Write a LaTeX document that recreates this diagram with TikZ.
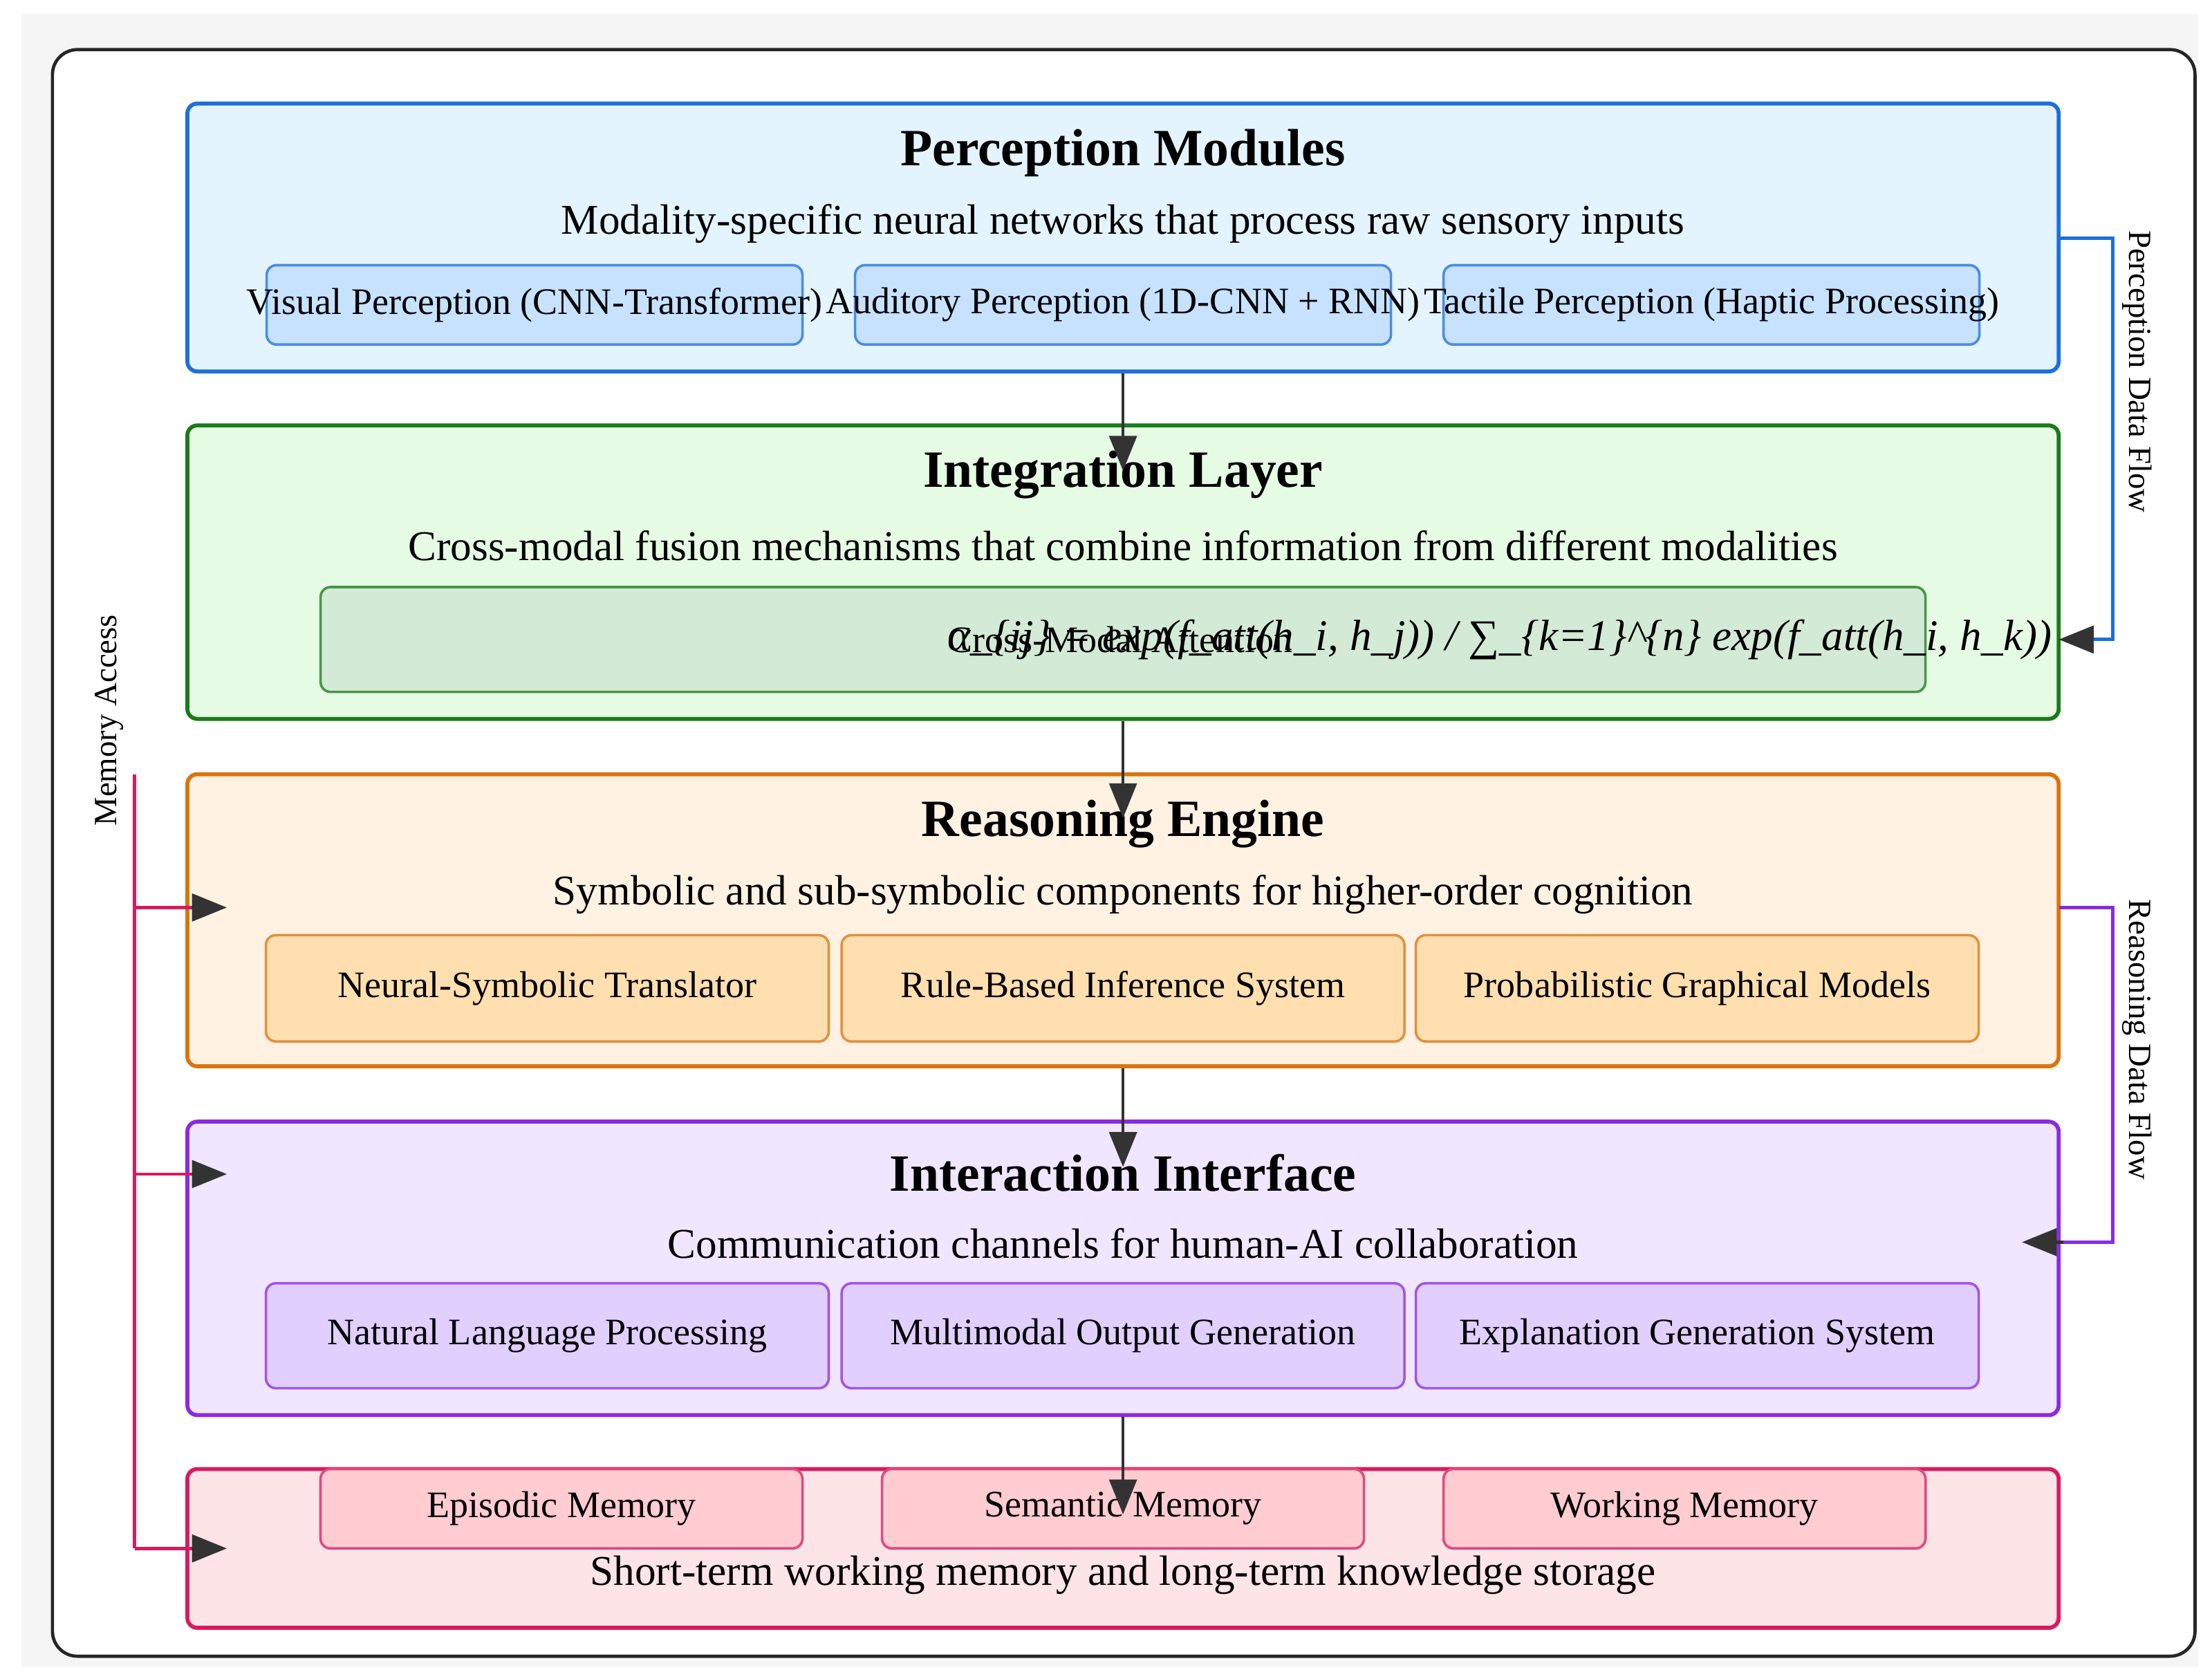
\documentclass[tikz,border=0pt]{standalone}
\usepackage{fontspec}
\setmainfont{Liberation Serif}
\usetikzlibrary{arrows.meta,positioning}
\definecolor{perB}{HTML}{1E6FD9}\definecolor{perF}{HTML}{E3F4FF}\definecolor{perS}{HTML}{C6E2FF}
\definecolor{intB}{HTML}{1B7A1B}\definecolor{intF}{HTML}{E6FBE3}\definecolor{intS}{HTML}{D3EAD6}
\definecolor{reaB}{HTML}{D9750F}\definecolor{reaF}{HTML}{FFF2E3}\definecolor{reaS}{HTML}{FFDFB0}
\definecolor{itaB}{HTML}{8A2BE2}\definecolor{itaF}{HTML}{F1E6FF}\definecolor{itaS}{HTML}{E1CFFF}
\definecolor{memB}{HTML}{D81B60}\definecolor{memF}{HTML}{FDE4E6}\definecolor{memS}{HTML}{FFCCD2}
\tikzset{
  layer/.style={draw=#1B,fill=#1F,line width=1.6pt,rounded corners=4pt,minimum width=26.4cm},
  sub/.style={draw=#1B!80,fill=#1S,line width=1pt,rounded corners=4pt,font=\fontsize{15}{17}\selectfont},
  ttl/.style={font=\fontsize{21}{23}\selectfont\bfseries},
  dsc/.style={font=\fontsize{17}{19}\selectfont},
  flow/.style={-{Triangle[length=14pt,width=11pt]},line width=1.3pt,color=black!80},
  side/.style={font=\fontsize{13}{15}\selectfont}
}
\begin{document}
\begin{tikzpicture}[x=0.02cm,y=-0.02cm]

    \useasboundingbox (0,0) rectangle (1560,1179);
    \fill[black!4] (15,10) rectangle (1550,1175);
    \draw[line width=1.3pt,black!85,fill=white,rounded corners=10pt] (37,35) rectangle (1548,1168);

    %Perception
    \node[layer=per,minimum height=3.78cm] (per) at (792,167.5) {};
    \node[ttl] (perT) at (792,108) {Perception Modules};
    \node[dsc] (perD) at (792,158) {Modality-specific neural networks that process raw sensory inputs};
    \foreach \x/\n/\t in {377/1/Visual Perception (CNN-Transformer),792/2/Auditory Perception (1D-CNN + RNN),1207/3/Tactile Perception (Haptic Processing)}{
        \node[sub=per,minimum width=7.56cm,minimum height=1.12cm] (perS\n) at (\x,215) {};
        \node[font=\fontsize{15}{17}\selectfont] at (\x,215) {\t};
    }

    %Integracion
    \node[layer=int,minimum height=4.14cm] (int) at (792,403.5) {};
    \node[ttl] (intT) at (792,335) {Integration Layer};
    \node[dsc] (intD) at (792,385) {Cross-modal fusion mechanisms that combine information from different modalities};
    \node[sub=int,minimum width=22.64cm,minimum height=1.48cm] (intS) at (792,451) {};
    \node[font=\fontsize{15}{17}\selectfont] at (790,451) {Cross-Modal Attention};
    \node[font=\fontsize{17.5}{19}\selectfont\itshape,anchor=west,inner sep=0pt] at (668,451)
        {α\_\{ij\} = exp(f\_att(h\_i, h\_j)) / ∑\_\{k=1\}\^{}\{n\} exp(f\_att(h\_i, h\_k))};

    %Razonamiento
    \node[layer=rea,minimum height=4.12cm] (rea) at (792,649) {};
    \node[ttl] (reaT) at (792,581) {Reasoning Engine};
    \node[dsc] (reaD) at (792,631) {Symbolic and sub-symbolic components for higher-order cognition};
    \foreach \x/\n/\t in {386/1/Neural-Symbolic Translator,792/2/Rule-Based Inference System,1197/3/Probabilistic Graphical Models}{
        \node[sub=rea,minimum width=7.94cm,minimum height=1.5cm] (reaS\n) at (\x,697) {\t};
    }

    %Interaccion
    \node[layer=ita,minimum height=4.14cm] (ita) at (792,894.5) {};
    \node[ttl] (itaT) at (792,827) {Interaction Interface};
    \node[dsc] (itaD) at (792,877) {Communication channels for human-AI collaboration};
    \foreach \x/\n/\t in {386/1/Natural Language Processing,792/2/Multimodal Output Generation,1197/3/Explanation Generation System}{
        \node[sub=ita,minimum width=7.94cm,minimum height=1.48cm] (itaS\n) at (\x,942) {\t};
    }

    %Memoria
    \node[layer=mem,minimum height=2.24cm] (mem) at (792,1092) {};
    \foreach \x/\n/\t in {396/1/Episodic Memory,792/2/Semantic Memory,1188/3/Working Memory}{
        \node[sub=mem,minimum width=6.8cm,minimum height=1.12cm] (memS\n) at (\x,1064) {\t};
    }
    \node[dsc] (memD) at (792,1111) {Short-term working memory and long-term knowledge storage};

    %Flechas centrales
    \coordinate (c1) at (792,332); \coordinate (c2) at (792,577);
    \coordinate (c3) at (792,823); \coordinate (c4) at (792,1068);
    \draw[flow] (per.south) -- (c1);
    \draw[flow] (int.south) -- (c2);
    \draw[flow] (rea.south) -- (c3);
    \draw[flow] (ita.south) -- (c4);

    %Flujos laterales
    \coordinate (p1) at (1452,168); \coordinate (p2) at (1452,451);
    \draw[perB,line width=1.3pt] (p1) -- (1490,168) -- (1490,451) -- (1468,451);
    \draw[flow] (1475,451) -- (p2);
    \node[side,rotate=-90] at (1507,262) {Perception Data Flow};
    \coordinate (r1) at (1452,640); \coordinate (r2) at (1426,876);
    \draw[itaB,line width=1.3pt] (r1) -- (1490,640) -- (1490,876) -- (1450,876);
    \draw[flow] (1455,876) -- (r2);
    \node[side,rotate=-90] at (1507,733) {Reasoning Data Flow};

    %Memoria acceso
    \draw[memB,line width=1.3pt] (95,546) -- (95,1092);
    \foreach \y in {640,828,1092}{
        \draw[memB,line width=1.3pt] (95,\y) -- (140,\y);
        \draw[flow] (135,\y) -- (160,\y);
    }
    \node[side,rotate=90] at (77,508) {Memory Access};

\end{tikzpicture}
\end{document}
